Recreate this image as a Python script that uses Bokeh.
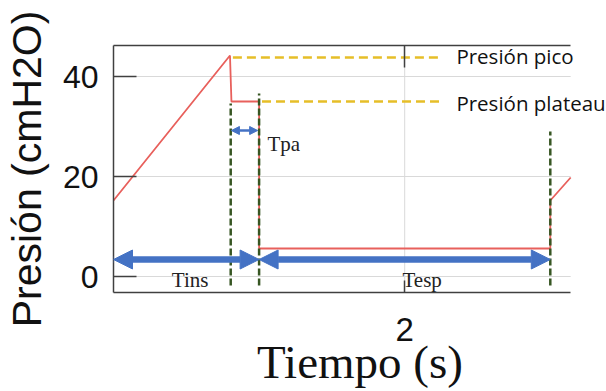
from bokeh.plotting import figure
from bokeh.models import Range1d, FixedTicker, LinearAxis, Label, Arrow, NormalHead
from bokeh.embed import file_html
from bokeh.resources import INLINE

# ---- data ----
time_s = [0.0, 0.80, 0.81, 1.0, 1.0, 3.0, 3.0, 3.14]
pressure = [15.2, 44.2, 35.0, 35.0, 5.6, 5.6, 15.2, 19.8]

marker_t = [0.805, 1.0, 3.0]
marker_top = [34.6, 36.6, 29.0]
marker_bottom = [-1.8, -1.8, -1.8]

ref_start = [0.82, 1.02]
ref_end = [2.25, 2.25]
ref_level = [43.8, 35.0]
ref_names = ["Presión pico", "Presión plateau"]
ref_text_x = [2.355, 2.355]
ref_text_y = [44.2, 34.8]

phase_names = ["Tins", "Tesp"]
phase_start = [0.0, 1.0]
phase_end = [1.0, 3.0]
phase_level = 3.4
phase_text_x = [0.526, 2.12]
phase_text_y = -0.6

tpa_start, tpa_end, tpa_level = 0.81, 0.99, 29.2
tpa_text = "Tpa"
tpa_text_x, tpa_text_y = 1.058, 26.6

x_ticks = [2]
y_ticks = [0, 20, 40]
x_axis_end = 3.14
x_view = (0.0, 3.386)
y_view = (-3.2, 46.2)

AX = "#404040"
GRID = "#d9d9d9"
BLUE = "#4472C4"

p = figure(width=606, height=391, x_range=Range1d(*x_view), y_range=Range1d(*y_view),
           output_backend="svg", toolbar_location=None,
           min_border_left=110, min_border_right=0, min_border_top=45, min_border_bottom=99)
p.outline_line_color = None
p.background_fill_color = "white"
p.border_fill_color = "white"
p.xgrid.visible = False
p.ygrid.visible = False

# light grid drawn only over the axis extent
p.segment(x0=[x_view[0]] * len(y_ticks), y0=y_ticks, x1=[x_axis_end] * len(y_ticks), y1=y_ticks,
          line_color=GRID, line_width=1)
p.segment(x0=x_ticks, y0=[y_view[0]] * len(x_ticks), x1=x_ticks, y1=[y_view[1]] * len(x_ticks),
          line_color=GRID, line_width=1)

# bottom axis
xa = p.xaxis[0]
xa.ticker = FixedTicker(ticks=x_ticks)
xa.bounds = (x_view[0], x_axis_end)
xa.major_tick_in = 12
xa.major_tick_out = 0
xa.minor_tick_in = 0
xa.minor_tick_out = 0
xa.axis_line_color = AX
xa.axis_line_width = 1.5
xa.major_tick_line_color = AX
xa.major_tick_line_width = 1.5
xa.major_label_text_font = "Liberation Sans"
xa.major_label_text_font_size = "33px"
xa.major_label_text_color = "#111111"
xa.major_label_standoff = 25
xa.axis_label = "Tiempo (s)"
xa.axis_label_text_font = "Liberation Serif"
xa.axis_label_text_font_size = "47px"
xa.axis_label_text_font_style = "normal"
xa.axis_label_text_color = "#111111"
xa.axis_label_standoff = -8

# left axis
ya = p.yaxis[0]
ya.ticker = FixedTicker(ticks=y_ticks)
ya.major_tick_in = 23
ya.major_tick_out = 0
ya.minor_tick_in = 0
ya.minor_tick_out = 0
ya.axis_line_color = AX
ya.axis_line_width = 1.5
ya.major_tick_line_color = AX
ya.major_tick_line_width = 1.5
ya.major_label_text_font = "Liberation Sans"
ya.major_label_text_font_size = "32px"
ya.major_label_text_color = "#111111"
ya.major_label_standoff = 15
ya.axis_label = "Presión (cmH2O)"
ya.axis_label_text_font = "Liberation Sans"
ya.axis_label_text_font_size = "41px"
ya.axis_label_text_font_style = "normal"
ya.axis_label_text_color = "#111111"
ya.axis_label_standoff = 10

# top axis (frame line with one inner tick)
ta = LinearAxis(ticker=FixedTicker(ticks=x_ticks), bounds=(x_view[0], x_axis_end),
                major_tick_in=22, major_tick_out=0,
                minor_tick_in=0, minor_tick_out=0, axis_line_color=AX, axis_line_width=1.5,
                major_tick_line_color=AX, major_tick_line_width=1.5,
                major_label_text_color=None, major_label_text_font_size="1px", major_label_standoff=0)
p.add_layout(ta, "above")

# pressure trace
p.line(time_s, pressure, line_color="#E8605C", line_width=1.8)

# vertical phase markers
p.segment(x0=marker_t, y0=marker_bottom, x1=marker_t, y1=marker_top,
          line_color="#375623", line_width=2.5, line_dash="7 3")

# reference levels
p.segment(x0=ref_start, y0=ref_level, x1=ref_end, y1=ref_level,
          line_color="#E6BE28", line_width=2.5, line_dash="9 5")

for name, tx, ty in zip(ref_names, ref_text_x, ref_text_y):
    p.add_layout(Label(x=tx, y=ty, text=name, text_font="Open Sans", text_font_size="20.5px",
                       text_color="#111111", text_baseline="alphabetic", text_align="left"))

# phase arrows
for name, s, e, tx in zip(phase_names, phase_start, phase_end, phase_text_x):
    p.add_layout(Arrow(x_start=s, y_start=phase_level, x_end=e, y_end=phase_level,
                       line_color=BLUE, line_width=6.5,
                       start=NormalHead(size=19, fill_color=BLUE, line_color=BLUE, line_width=1),
                       end=NormalHead(size=19, fill_color=BLUE, line_color=BLUE, line_width=1)))
    p.add_layout(Label(x=tx, y=phase_text_y, text=name, text_font="Liberation Serif",
                       text_font_size="21px", text_color="#222222",
                       text_baseline="alphabetic", text_align="center"))

p.add_layout(Arrow(x_start=tpa_start, y_start=tpa_level, x_end=tpa_end, y_end=tpa_level,
                   line_color=BLUE, line_width=2.5,
                   start=NormalHead(size=8, fill_color=BLUE, line_color=BLUE, line_width=1),
                   end=NormalHead(size=8, fill_color=BLUE, line_color=BLUE, line_width=1)))
p.add_layout(Label(x=tpa_text_x, y=tpa_text_y, text=tpa_text, text_font="Liberation Serif",
                   text_font_size="21px", text_color="#222222",
                   text_baseline="alphabetic", text_align="left"))

open("out.html", "w").write(file_html(p, INLINE))
